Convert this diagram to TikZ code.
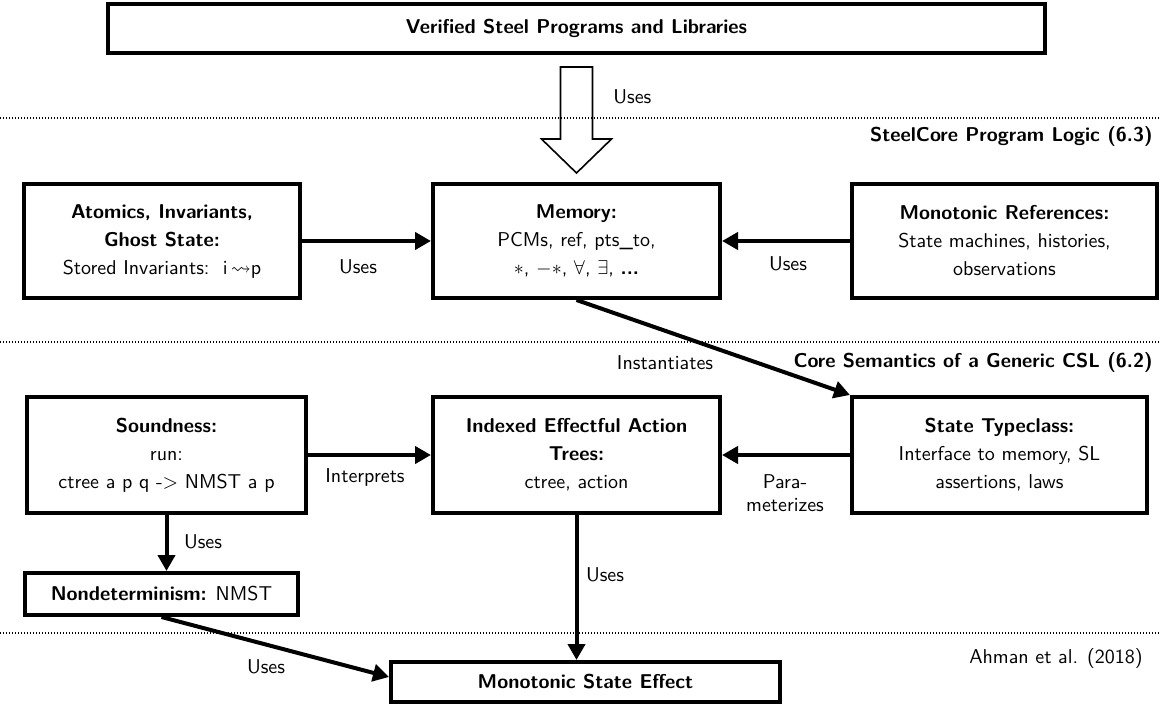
\documentclass[tikz,border=0pt]{standalone}
\usepackage{amssymb}
\usetikzlibrary{arrows.meta,calc}
\renewcommand{\familydefault}{\sfdefault}

\begin{document}
\begin{tikzpicture}[x=0.5pt,y=-0.5pt,
  font=\fontsize{10}{14}\selectfont,
  box/.style={draw,line width=2pt,align=center,inner sep=0pt},
  link/.style={line width=2pt,-{Triangle[length=8pt,width=8.5pt]}},
  lbl/.style={inner sep=0pt},
  layer/.style={line width=0.6pt,dash pattern=on 0.6pt off 0.9pt}]
\useasboundingbox (0,0) rectangle (1167,706);

% boxes
\node[box,minimum width=468.5pt,minimum height=24.5pt] (top) at (576.5,28.5)
  {\textbf{Verified Steel Programs and Libraries}};
\node[box,minimum width=138pt,minimum height=57pt] (atom) at (162,241)
  {\textbf{Atomics, Invariants,}\\\textbf{Ghost State:}\\Stored Invariants:\ \ i\,$\rightsquigarrow$p};
\node[box,minimum width=143.5pt,minimum height=57pt] (mem) at (576.5,241)
  {\textbf{Memory:}\\PCMs, ref, pts\_to,\\$\ast$, ${-}{\ast}$, $\forall$, $\exists$, \textbf{...}};
\node[box,minimum width=152.5pt,minimum height=57pt] (mono) at (1004.5,241)
  {\textbf{Monotonic References:}\\State machines, histories,\\observations};
\node[box,minimum width=139.5pt,minimum height=58pt] (snd) at (166.5,455)
  {\textbf{Soundness:}\\run:\\ctree a p q -> NMST a p};
\node[box,minimum width=143.5pt,minimum height=58pt] (tree) at (576.5,455)
  {\textbf{Indexed Effectful Action}\\\textbf{Trees:}\\ctree, action};
\node[box,minimum width=147.5pt,minimum height=58pt] (st) at (999.5,455)
  {\textbf{State Typeclass:}\\Interface to memory, SL\\assertions, laws};
\node[box,minimum width=136.5pt,minimum height=21pt] (nd) at (161.5,594)
  {\textbf{Nondeterminism:} NMST};
\node[box,minimum width=194.5pt,minimum height=20pt] (mse) at (585.5,682)
  {\textbf{Monotonic State Effect}};

% hollow block arrow from the programs to the logic
\draw[line width=0.8pt,fill=white]
  ($(top.south)+(-16,12)$) -- ($(top.south)+(16,12)$) -- ($(top.south)+(16,84)$)
  -- ($(top.south)+(35,84)$) -- ($(mem.north)+(0,-9)$) -- ($(top.south)+(-35,84)$)
  -- ($(top.south)+(-16,84)$) -- cycle;
\node[lbl,anchor=west] (usetop) at (613,97) {Uses};

% layer separators
\coordinate (l1a) at (0,118);   \coordinate (l1b) at (1160,118);
\coordinate (l2a) at (0,342);   \coordinate (l2b) at (1160,342);
\coordinate (l3a) at (0,633);   \coordinate (l3b) at (1160,633);
\draw[layer] (l1a) -- (l1b);
\draw[layer] (l2a) -- (l2b);
\draw[layer] (l3a) -- (l3b);
\node[lbl,anchor=east] (lay1) at (1153,136) {\textbf{SteelCore Program Logic (6.3)}};
\node[lbl,anchor=east] (lay2) at (1153,362) {\textbf{Core Semantics of a Generic CSL (6.2)}};
\node[lbl,anchor=east] (lay3) at (1143,658) {Ahman et al. (2018)};

% connectors
\draw[link] (atom.east) -- (mem.west);
\node[lbl] (u1) at (358,267) {Uses};
\draw[link] (mono.west) -- (mem.east);
\node[lbl] (u2) at (788,264) {Uses};
\draw[link] (mem.south) -- (st.north west);
\node[lbl] (inst) at (665,363) {Instantiates};
\draw[link] (snd.east) -- (tree.west);
\node[lbl] (interp) at (365,477) {Interprets};
\draw[link] (st.west) -- (tree.east);
\node[lbl,align=center,font=\fontsize{10}{11.5}\selectfont] (param) at (785,493.5) {Para-\\meterizes};
\draw[link] (snd.south) -- (snd.south |- nd.north);
\node[lbl] (u3) at (203,542) {Uses};
\draw[link] (nd.south) -- ($(mse.west)+(0,-5)$);
\node[lbl] (u4) at (266,667) {Uses};
\draw[link] (tree.south) -- (tree.south |- mse.north);
\node[lbl] (u5) at (605,575) {Uses};
\end{tikzpicture}
\end{document}
